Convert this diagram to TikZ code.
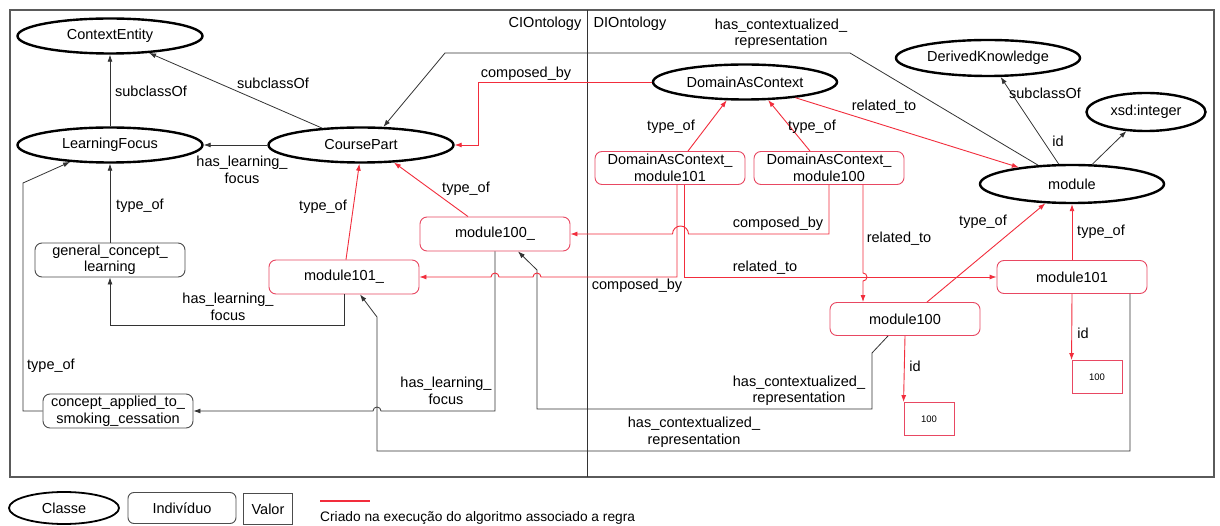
\documentclass[tikz,border=0pt]{standalone}
\usepackage{fontspec}
\setmainfont{Liberation Sans}
\usetikzlibrary{shapes.geometric,arrows.meta}

\definecolor{nodered}{RGB}{232,72,98}
\definecolor{edgered}{RGB}{242,45,60}
\definecolor{framegray}{RGB}{90,90,90}

\tikzset{
  classnode/.style={ellipse, draw=black, line width=2.4pt, inner sep=0pt,
    font=\fontsize{14.5}{16.5}\selectfont},
  indnode/.style={rectangle, rounded corners=7pt, draw=nodered, line width=0.9pt,
    inner sep=0pt, align=center, font=\fontsize{14.5}{16.5}\selectfont,
    minimum width=150pt, minimum height=34pt},
  indblack/.style={indnode, draw=black!70},
  valnode/.style={rectangle, draw=nodered, line width=0.9pt, inner sep=0pt,
    font=\fontsize{9.5}{11}\selectfont, minimum width=50pt, minimum height=33pt},
  lbl/.style={inner sep=0pt, align=center, font=\fontsize{14.5}{16.5}\selectfont},
  blk/.style={draw=black!80, line width=0.8pt, -{Latex[length=7pt,width=5pt]}},
  rd/.style={draw=edgered, line width=0.9pt, -{Latex[length=7pt,width=5pt]}},
}

\begin{document}
\begin{tikzpicture}[x=1pt,y=-1pt]
\useasboundingbox[fill=white] (0,0) rectangle (1220,526);

% frame and ontology divider
\draw[framegray, line width=1.2pt] (10,10) rectangle (1214,477);
\draw[black!80, line width=0.8pt] (587,10) -- (587,477);
\node[lbl] (cio) at (545,24) {CIOntology};
\node[lbl] (dio) at (630,24) {DIOntology};

% classes
\node[classnode, minimum width=185pt, minimum height=35pt] (CE) at (110,36) {ContextEntity};
\node[classnode, minimum width=185pt, minimum height=35pt] (LF) at (110,145) {LearningFocus};
\node[classnode, minimum width=185pt, minimum height=35pt] (CP) at (361,145) {CoursePart};
\node[classnode, minimum width=184pt, minimum height=35pt] (DAC) at (745,82) {DomainAsContext};
\node[classnode, minimum width=184pt, minimum height=36pt] (DK) at (988,58) {DerivedKnowledge};
\node[classnode, minimum width=119pt, minimum height=38pt] (XSD) at (1146,112) {xsd:integer};
\node[classnode, minimum width=184pt, minimum height=38pt] (MOD) at (1072,184) {module};

% individuals
\node[indblack] (GCL) at (110,260) {general\_concept\_\\learning};
\node[indblack] (CATS) at (118,411) {concept\_applied\_to\_\\smoking\_cessation};
\node[indnode] (M101u) at (344,277) {module101\_};
\node[indnode] (M100u) at (495,234) {module100\_};
\node[indnode, minimum height=33pt] (DACa) at (670,168) {DomainAsContext\_\\module101};
\node[indnode, minimum height=33pt] (DACb) at (829,168) {DomainAsContext\_\\module100};
\node[indnode, minimum height=33pt] (M101) at (1072,277) {module101};
\node[indnode, minimum height=33pt] (M100) at (905,319) {module100};

% values
\node[valnode] (V1) at (1097,377) {100};
\node[valnode] (V2) at (929,419) {100};

% existing links
\draw[blk] (LF) -- (CE);
\draw[blk] (CP) -- (CE);
\draw[blk] (CP) -- (LF);
\draw[blk] (GCL) -- (LF);
\draw[blk] (CATS.west) -- (23,411) -- (23,183) -- (LF.203);
\draw[blk] (M101u.south) -- (344,325) -| (GCL.south);
\draw[blk] (M100u.south) -- (495,411) -- (381,411)
  arc[start angle=0, end angle=180, radius=4pt] -- (CATS.east);
\draw[blk] ([xshift=58pt]M101.south) |- (377,451) -- (377,317) -- ([xshift=16pt]M101u.south);
\draw[blk] ([xshift=-17pt]M100.south) -- (872,353) -- (872,409) -- (537,409) -- (537,270)
  -- ([xshift=23pt]M100u.south);
\draw[blk] (MOD.151) -- (850,53) -- (445,53) -- (CP.39);
\draw[blk] (MOD) -- (DK);
\draw[blk] (MOD) -- (XSD);

% links created by the rule
\draw[rd] (DAC.west) -- (478,82) |- (CP.east);
\draw[rd] (DAC) -- (MOD);
\draw[rd] ([xshift=18pt]DACa.north) -- (DAC.225);
\draw[rd] ([xshift=-19pt]DACb.north) -- (DAC.-38);
\draw[rd] ([xshift=7pt]DACa.south) -- (677,277) -- (541,277)
  arc[start angle=0, end angle=180, radius=4pt] -- (499,277)
  arc[start angle=0, end angle=180, radius=4pt] -- (M101u.east);
\draw[rd] ([xshift=14pt]DACa.south) -- (684,277) -- (M101.west);
\draw[rd] (DACb.south) -- (829,234) -- (688.5,234)
  arc[start angle=0, end angle=180, radius=8pt] -- (M100u.east);
\draw[rd] ([xshift=34pt]DACb.south) -- (863,273)
  arc[start angle=90, end angle=-90, radius=4pt] -- ([xshift=-42pt]M100.north);
\draw[rd] ([xshift=22pt]M100.north) -- (MOD.216);
\draw[rd] (M101) -- (MOD);
\draw[rd] (M101.south) -- (V1.north west);
\draw[rd] (M100.south) -- (V2.north west);
\draw[rd] ([xshift=-27pt]M100u.north) -- (CP.-28);
\draw[rd] ([xshift=2pt]M101u.north) -- (CP.265);

% edge labels
\node[lbl] (l1) at (151,91) {subclassOf};
\node[lbl] (l2) at (273,83) {subclassOf};
\node[lbl] (l3) at (242,170) {has\_learning\_\\focus};
\node[lbl] (l4) at (140,206) {type\_of};
\node[lbl] (l5) at (51,366) {type\_of};
\node[lbl] (l6) at (228,307) {has\_learning\_\\focus};
\node[lbl] (l7) at (446,391) {has\_learning\_\\focus};
\node[lbl] (l8) at (694,432) {has\_contextualized\_\\representation};
\node[lbl] (l9) at (799,391) {has\_contextualized\_\\representation};
\node[lbl] (l10) at (526,74) {composed\_by};
\node[lbl] (l11) at (781,34) {has\_contextualized\_\\representation};
\node[lbl] (l12) at (884,107) {related\_to};
\node[lbl] (l13) at (1045,93) {subclassOf};
\node[lbl] (l14) at (1058,141) {id};
\node[lbl] (l15) at (671,127) {type\_of};
\node[lbl] (l16) at (812,127) {type\_of};
\node[lbl] (l17) at (637,286) {composed\_by};
\node[lbl] (l18) at (765,268) {related\_to};
\node[lbl] (l19) at (778,224) {composed\_by};
\node[lbl] (l20) at (899,239) {related\_to};
\node[lbl] (l21) at (983,222) {type\_of};
\node[lbl] (l22) at (1101,232) {type\_of};
\node[lbl] (l23) at (1083,333) {id};
\node[lbl] (l24) at (915,366) {id};
\node[lbl] (l25) at (466,189) {type\_of};
\node[lbl] (l26) at (323,207) {type\_of};

% legend
\node[classnode, line width=1.8pt, minimum width=110pt, minimum height=32pt] (LC) at (64,508) {Classe};
\node[indblack, minimum width=108pt, minimum height=31pt, rounded corners=6pt] (LI) at (182,508) {Indivíduo};
\node[rectangle, draw=black!70, line width=0.9pt, inner sep=0pt, minimum width=49pt,
  minimum height=31pt, font=\fontsize{14.5}{16.5}\selectfont] (LV) at (268,509) {Valor};
\coordinate (RL1) at (320,501);
\coordinate (RL2) at (370,501);
\draw[edgered, line width=1.5pt] (RL1) -- (RL2);
\node[anchor=west, inner sep=0pt, font=\fontsize{13.75}{15}\selectfont] (LT) at (320,518)
  {Criado na execução do algoritmo associado a regra};
\end{tikzpicture}
\end{document}
